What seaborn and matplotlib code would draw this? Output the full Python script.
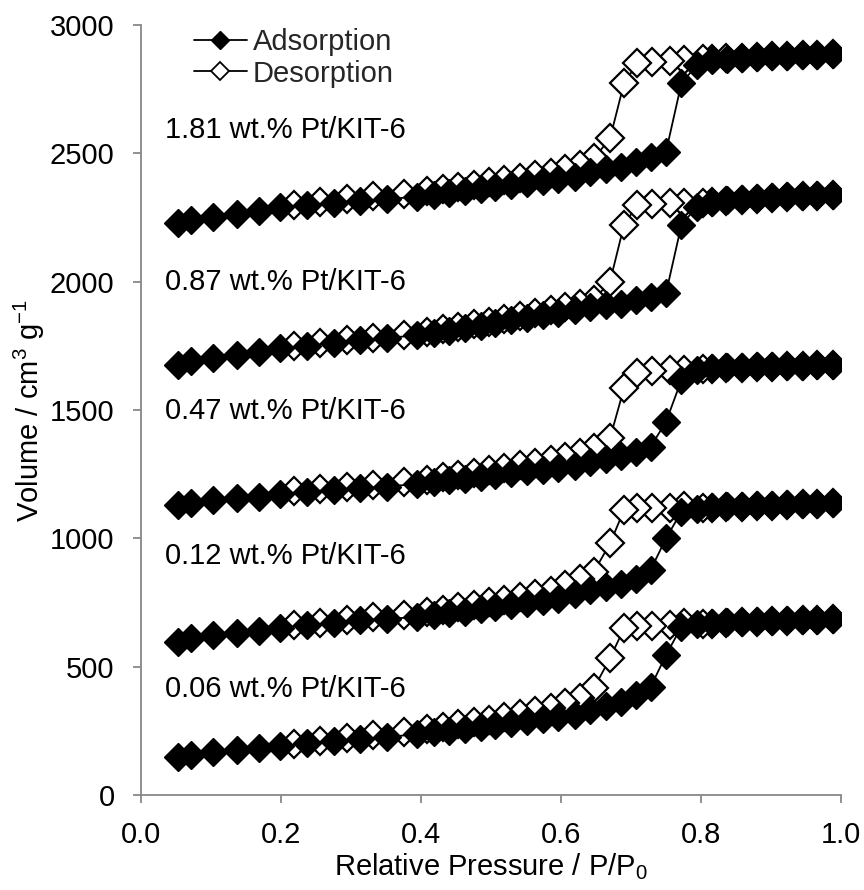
import matplotlib
matplotlib.use("Agg")
import matplotlib.pyplot as plt
import seaborn as sns
import pandas as pd
from matplotlib.lines import Line2D

# ---------------- data ----------------
samples = ["0.06 wt.% Pt/KIT-6", "0.12 wt.% Pt/KIT-6", "0.47 wt.% Pt/KIT-6",
           "0.87 wt.% Pt/KIT-6", "1.81 wt.% Pt/KIT-6"]

ads_p = [0.053, 0.072, 0.103, 0.137, 0.168, 0.199, 0.237, 0.275, 0.313, 0.352,
         0.394, 0.418, 0.440, 0.463, 0.485, 0.506, 0.528, 0.551, 0.574, 0.596,
         0.620, 0.642, 0.664, 0.686, 0.707, 0.728, 0.750, 0.772, 0.794, 0.815,
         0.837, 0.858, 0.880, 0.901, 0.923, 0.944, 0.966, 0.989]

des_p = [0.988, 0.966, 0.945, 0.923, 0.901, 0.880, 0.858, 0.836, 0.815, 0.803,
         0.775, 0.756, 0.730, 0.709, 0.690, 0.670, 0.647, 0.627, 0.606, 0.585,
         0.563, 0.541, 0.519, 0.497, 0.475, 0.453, 0.431, 0.409, 0.375, 0.332,
         0.294, 0.256, 0.218]

ads_006 = [149, 157, 167, 176, 184, 191, 201, 209, 217, 226, 237, 244, 251, 258,
           266, 274, 282, 290, 298, 305, 313, 332, 348, 362, 390, 421, 545, 656,
           667, 671, 674, 676, 678, 679, 680, 681, 682, 684]
des_006 = [684, 682, 681, 679, 677, 675, 673, 671, 668, 667, 672, 662, 660, 660,
           649, 533, 416, 378, 358, 340, 326, 314, 303, 293, 284, 275, 266, 258,
           246, 234, 222, 211, 200]

ads_012 = [597, 610, 622, 630, 640, 652, 662, 672, 680, 687, 693, 700, 708, 715,
           723, 731, 739, 747, 756, 765, 785, 800, 812, 824, 840, 877, 1000, 1104,
           1116, 1121, 1125, 1127, 1129, 1131, 1132, 1133, 1134, 1136]
des_012 = [1136, 1134, 1132, 1130, 1128, 1126, 1124, 1122, 1120, 1120, 1125, 1118,
           1117, 1120, 1110, 980, 870, 840, 818, 795, 782, 771, 761, 751, 741, 731,
           722, 712, 702, 692, 682, 672, 662]

ads_047 = [1130, 1137, 1148, 1156, 1163, 1174, 1182, 1189, 1195, 1202, 1212, 1219,
           1226, 1233, 1240, 1247, 1254, 1261, 1268, 1274, 1282, 1298, 1310, 1319,
           1337, 1357, 1454, 1617, 1656, 1663, 1666, 1668, 1670, 1671, 1672, 1673,
           1674, 1676]
des_047 = [1676, 1674, 1672, 1670, 1668, 1666, 1664, 1662, 1660, 1658, 1656, 1655,
           1652, 1643, 1585, 1390, 1351, 1331, 1318, 1306, 1295, 1285, 1275, 1265,
           1256, 1247, 1238, 1229, 1218, 1208, 1200, 1192, 1185]

ads_087 = [1675, 1690, 1703, 1716, 1728, 1740, 1751, 1761, 1771, 1781, 1791, 1800,
           1809, 1819, 1829, 1839, 1849, 1859, 1869, 1879, 1890, 1902, 1909, 1915,
           1928, 1941, 1955, 2221, 2292, 2310, 2318, 2323, 2327, 2330, 2332, 2334,
           2336, 2338]
des_087 = [2338, 2335, 2332, 2329, 2326, 2322, 2318, 2314, 2310, 2308, 2306, 2305,
           2304, 2299, 2221, 2000, 1930, 1915, 1902, 1890, 1878, 1866, 1855, 1844,
           1834, 1824, 1814, 1804, 1793, 1782, 1772, 1760, 1750]

ads_181 = [2227, 2240, 2253, 2265, 2277, 2290, 2299, 2306, 2314, 2322, 2331, 2338,
           2346, 2354, 2361, 2369, 2377, 2385, 2393, 2401, 2409, 2428, 2438, 2448,
           2467, 2487, 2506, 2773, 2844, 2862, 2868, 2872, 2876, 2879, 2881, 2883,
           2885, 2888]
des_181 = [2888, 2885, 2883, 2881, 2879, 2876, 2873, 2870, 2866, 2866, 2862, 2858,
           2857, 2851, 2773, 2558, 2480, 2455, 2438, 2424, 2414, 2405, 2396, 2387,
           2378, 2370, 2362, 2355, 2343, 2333, 2322, 2310, 2298]

ads_all = [ads_006, ads_012, ads_047, ads_087, ads_181]
des_all = [des_006, des_012, des_047, des_087, des_181]

label_y = [413, 931, 1496, 1999, 2591]
label_x = 0.034

x_ticks = [0.0, 0.2, 0.4, 0.6, 0.8, 1.0]
y_ticks = [0, 500, 1000, 1500, 2000, 2500, 3000]

# ---------------- style ----------------
sns.set_theme(style="white")
plt.rcParams["font.family"] = ["Liberation Sans", "DejaVu Sans"]
plt.rcParams["mathtext.fontset"] = "custom"
plt.rcParams["mathtext.rm"] = "Liberation Sans"
plt.rcParams["mathtext.it"] = "Liberation Sans:italic"
plt.rcParams["mathtext.bf"] = "Liberation Sans:bold"

FS = 21
fig = plt.figure(figsize=(8.64, 8.90), dpi=100)
ax = fig.add_axes([0.1632, 0.1067, 0.8102, 0.8652])

ms = 14
for des in des_all:
    d_des = pd.DataFrame({"p": des_p, "v": des})
    sns.lineplot(data=d_des, x="p", y="v", sort=False, ax=ax, color="black",
                 lw=1.3, marker="D", markersize=ms, markerfacecolor="white",
                 markeredgecolor="black", markeredgewidth=1.6, zorder=2)
for ads in ads_all:
    d_ads = pd.DataFrame({"p": ads_p, "v": ads})
    sns.lineplot(data=d_ads, x="p", y="v", sort=False, ax=ax, color="black",
                 lw=1.3, marker="D", markersize=ms, markerfacecolor="black",
                 markeredgecolor="black", markeredgewidth=1.0, zorder=3)

for name, yy in zip(samples, label_y):
    ax.text(label_x, yy, name, fontsize=FS, ha="left", va="center", color="black")

ax.set_xlim(0, 1.0)
ax.set_ylim(0, 3000)
ax.set_xticks(x_ticks)
ax.set_xticklabels([f"{t:.1f}" for t in x_ticks])
ax.set_yticks(y_ticks)
ax.set_yticklabels([str(t) for t in y_ticks])
ax.tick_params(axis="both", which="major", labelsize=FS, length=6, width=1.3,
               color="#888888", direction="out", pad=13, labelcolor="black")
ax.tick_params(axis="x", bottom=True)
ax.tick_params(axis="y", left=True)
for side in ["top", "right"]:
    ax.spines[side].set_visible(False)
for side in ["left", "bottom"]:
    ax.spines[side].set_color("#888888")
    ax.spines[side].set_linewidth(1.3)

ax.set_xlabel("Relative Pressure / P/P$_0$", fontsize=FS, color="black", labelpad=1)
ax.set_ylabel("Volume / cm$^3$ g$^{-1}$", fontsize=FS, color="black", labelpad=2)

handles = [
    Line2D([], [], color="black", lw=1.3, marker="D", markersize=9,
           markerfacecolor="black", markeredgecolor="black"),
    Line2D([], [], color="black", lw=1.3, marker="D", markersize=9,
           markerfacecolor="white", markeredgecolor="black", markeredgewidth=1.3),
]
ax.legend(handles, ["Adsorption", "Desorption"], loc="upper left",
          bbox_to_anchor=(0.076, 0.996), frameon=False, fontsize=FS,
          handlelength=1.8, handletextpad=0.2, labelspacing=0.12,
          borderpad=0, borderaxespad=0)

fig.savefig("out.png", dpi=100)
